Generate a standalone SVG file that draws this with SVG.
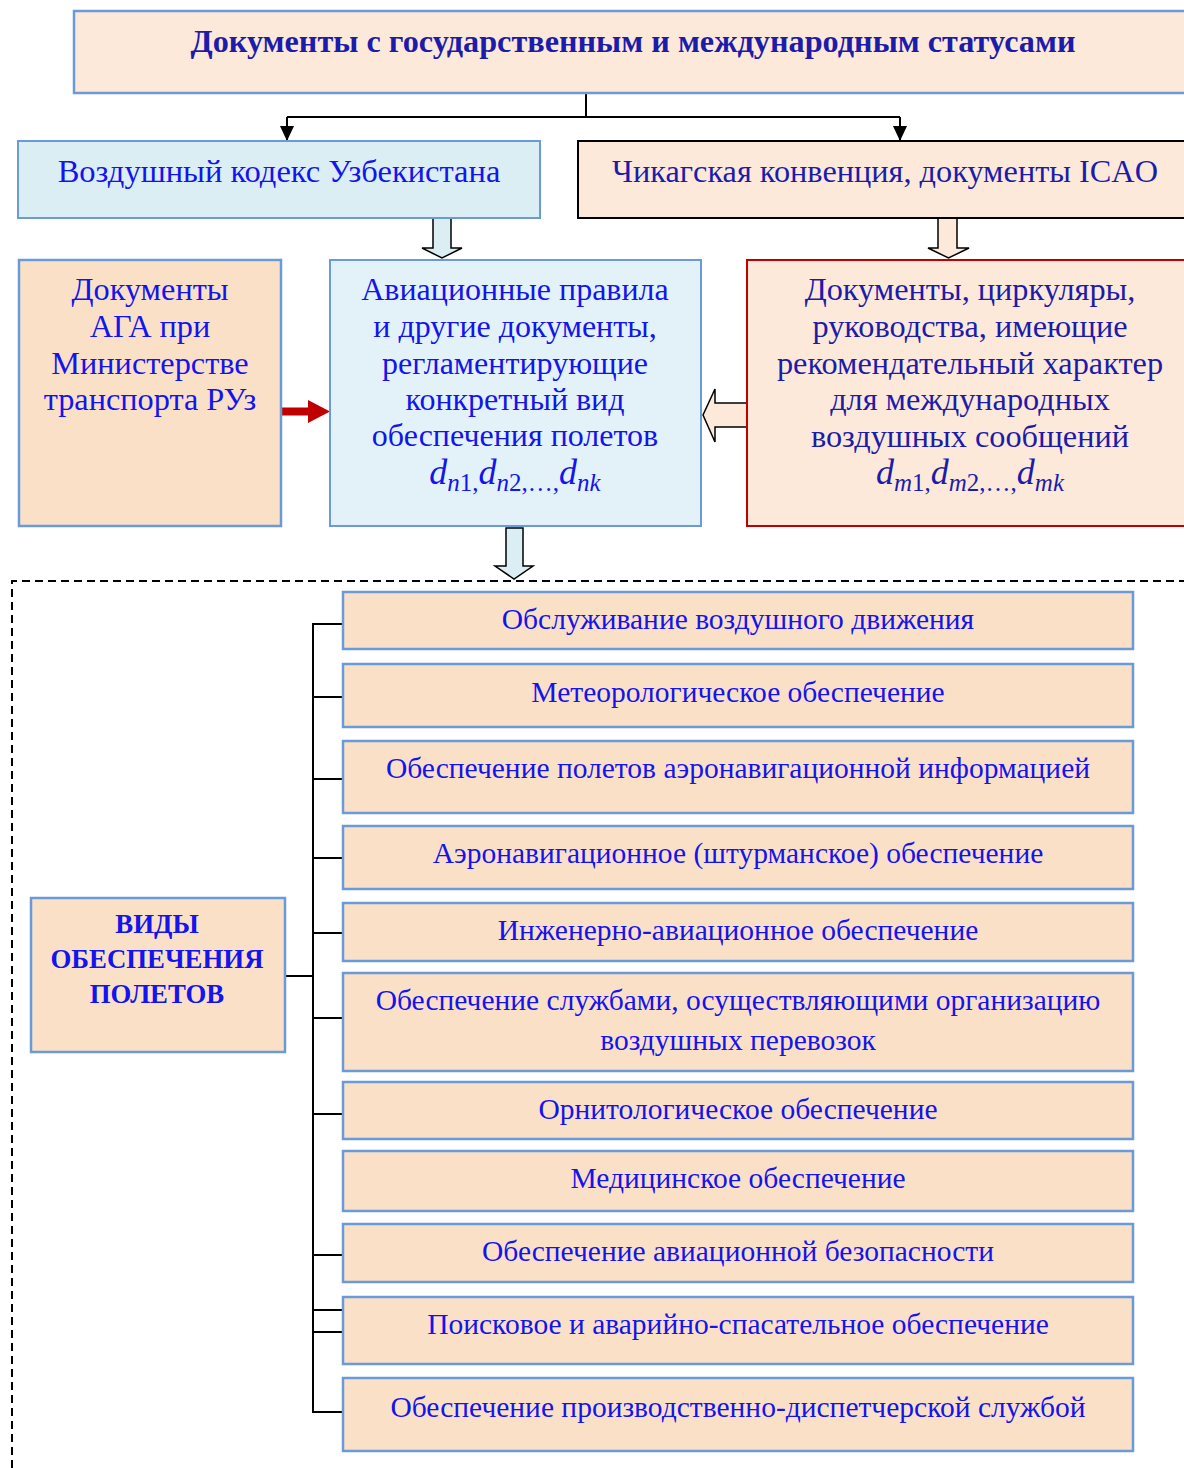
<svg xmlns="http://www.w3.org/2000/svg" width="1184" height="1468" viewBox="0 0 1184 1468">
<defs>
<style>
.t{font-family:"Liberation Serif","Times New Roman",serif;text-anchor:middle}
.blue{fill:#1414ec}
.navy{fill:#1c1cab}
.bx{fill:#fbe0c8;stroke:#6a9ad8;stroke-width:2.5}
.ln{stroke:#000;stroke-width:2;fill:none}
.f{font-family:"Liberation Serif","Times New Roman",serif;font-style:italic;text-anchor:middle}
.s{font-size:29.5px}
</style>
<marker id="ah" markerWidth="16" markerHeight="14" refX="15" refY="7" orient="auto" markerUnits="userSpaceOnUse">
<path d="M0,0 L15,7 L0,14 Z" fill="#000"/>
</marker>
</defs>
<rect width="1184" height="1468" fill="#fff"/>

<g id="connectors">
<path class="ln" d="M586,93 V117"/>
<path class="ln" d="M287,117 H900"/>
<path class="ln" d="M287,117 V141" marker-end="url(#ah)"/>
<path class="ln" d="M900,117 V141" marker-end="url(#ah)"/>
<path d="M433,218 H451 V248 H462 L442,258 L422,248 H433 Z" fill="#daeef3" stroke="#000" stroke-width="1.5"/>
<path d="M938,218 H957 V248 H969 L948.5,258 L928,248 H938 Z" fill="#fde9d9" stroke="#000" stroke-width="1.5"/>
<path d="M279,407.5 H308 V400 L330,411.5 L308,423 V415.5 H279 Z" fill="#c00000"/>
<path d="M747,403 H715 V389 L703,415 L715,442 V427 H747 Z" fill="#fde9d9" stroke="#000" stroke-width="1.5"/>
<path d="M506,528 H523 V566 H533 L514,579 L495,566 H506 Z" fill="#daeef3" stroke="#000" stroke-width="1.5"/>
<path d="M12,1468 V581 H1184" fill="none" stroke="#000" stroke-width="2" stroke-dasharray="8,5"/>
<path class="ln" d="M285,976 H313"/>
<path class="ln" d="M343,624 H313 V1412 H343"/>
<path class="ln" d="M313,697 H343 M313,779 H343 M313,858 H343 M313,933 H343 M313,1018 H343 M313,1114 H343 M313,1255 H343 M313,1310 H343 M313,1332 H343"/>
</g>

<g id="top">
<rect x="74" y="11" width="1120" height="82" fill="#fde9d9" stroke="#6a9ad8" stroke-width="2.5"/>
<text class="t navy" x="633" y="52" font-size="31" font-weight="bold" textLength="885" lengthAdjust="spacingAndGlyphs">Документы с государственным и международным статусами</text>
</g>

<g id="vozdushny">
<rect x="18" y="141" width="522" height="77" fill="#daeef3" stroke="#6a9ad8" stroke-width="2"/>
<text class="t blue" x="279" y="182" font-size="32.5">Воздушный кодекс Узбекистана</text>
</g>

<g id="chicago">
<rect x="578" y="141" width="616" height="77" fill="#fde9d9" stroke="#000" stroke-width="2"/>
<text class="t navy" x="885" y="182" font-size="32.3">Чикагская конвенция, документы ICAO</text>
</g>

<g id="aga">
<rect x="19" y="260" width="262" height="266" class="bx"/>
<text class="t blue" font-size="32.3"><tspan x="150" y="300">Документы</tspan><tspan x="150" y="337">АГА при</tspan><tspan x="150" y="374">Министерстве</tspan><tspan x="150" y="410">транспорта РУз</tspan></text>
</g>

<g id="aviarules">
<rect x="330" y="260" width="371" height="266" fill="#e2f2f8" stroke="#6a9ad8" stroke-width="2"/>
<text class="t blue" font-size="32"><tspan x="515" y="300">Авиационные правила</tspan><tspan x="515" y="337">и другие документы,</tspan><tspan x="515" y="374">регламентирующие</tspan><tspan x="515" y="410">конкретный вид</tspan><tspan x="515" y="446">обеспечения полетов</tspan></text>
<text class="f blue" x="515" y="484" font-size="36">d<tspan font-size="25" dy="7">n</tspan><tspan font-size="25" font-style="normal">1,</tspan><tspan dy="-7">d</tspan><tspan font-size="25" dy="7">n</tspan><tspan font-size="25" font-style="normal">2,…,</tspan><tspan dy="-7">d</tspan><tspan font-size="25" dy="7">nk</tspan></text>
</g>

<g id="recommend">
<rect x="747" y="260" width="447" height="266" fill="#fde9d9" stroke="#c00000" stroke-width="2"/>
<text class="t navy" font-size="32.3"><tspan x="970" y="300">Документы, циркуляры,</tspan><tspan x="970" y="337">руководства, имеющие</tspan><tspan x="970" y="374">рекомендательный характер</tspan><tspan x="970" y="410">для международных</tspan><tspan x="970" y="447">воздушных сообщений</tspan></text>
<text class="f navy" x="970" y="484" font-size="36">d<tspan font-size="25" dy="7">m</tspan><tspan font-size="25" font-style="normal">1,</tspan><tspan dy="-7">d</tspan><tspan font-size="25" dy="7">m</tspan><tspan font-size="25" font-style="normal">2,…,</tspan><tspan dy="-7">d</tspan><tspan font-size="25" dy="7">mk</tspan></text>
</g>

<g id="vidy">
<rect x="31" y="898" width="254" height="154" class="bx"/>
<text class="t blue" font-size="26.8" font-weight="bold"><tspan x="157" y="933">ВИДЫ</tspan><tspan x="157" y="968">ОБЕСПЕЧЕНИЯ</tspan><tspan x="157" y="1003">ПОЛЕТОВ</tspan></text>
</g>

<g id="b1"><rect x="343" y="592" width="790" height="57" class="bx"/><text class="t blue s" x="738" y="629">Обслуживание воздушного движения</text></g>
<g id="b2"><rect x="343" y="664" width="790" height="63" class="bx"/><text class="t blue s" x="738" y="702">Метеорологическое обеспечение</text></g>
<g id="b3"><rect x="343" y="741" width="790" height="72" class="bx"/><text class="t blue s" x="738" y="778">Обеспечение полетов аэронавигационной информацией</text></g>
<g id="b4"><rect x="343" y="826" width="790" height="63" class="bx"/><text class="t blue s" x="738" y="863">Аэронавигационное (штурманское) обеспечение</text></g>
<g id="b5"><rect x="343" y="903" width="790" height="58" class="bx"/><text class="t blue s" x="738" y="940">Инженерно-авиационное обеспечение</text></g>
<g id="b6"><rect x="343" y="973" width="790" height="98" class="bx"/><text class="t blue s"><tspan x="738" y="1010">Обеспечение службами, осуществляющими организацию</tspan><tspan x="738" y="1050">воздушных перевозок</tspan></text></g>
<g id="b7"><rect x="343" y="1082" width="790" height="57" class="bx"/><text class="t blue s" x="738" y="1119">Орнитологическое обеспечение</text></g>
<g id="b8"><rect x="343" y="1151" width="790" height="60" class="bx"/><text class="t blue s" x="738" y="1188">Медицинское обеспечение</text></g>
<g id="b9"><rect x="343" y="1224" width="790" height="58" class="bx"/><text class="t blue s" x="738" y="1261">Обеспечение авиационной безопасности</text></g>
<g id="b10"><rect x="343" y="1297" width="790" height="67" class="bx"/><text class="t blue s" x="738" y="1334">Поисковое и аварийно-спасательное обеспечение</text></g>
<g id="b11"><rect x="343" y="1378" width="790" height="73" class="bx"/><text class="t blue s" x="738" y="1417">Обеспечение производственно-диспетчерской службой</text></g>
</svg>
